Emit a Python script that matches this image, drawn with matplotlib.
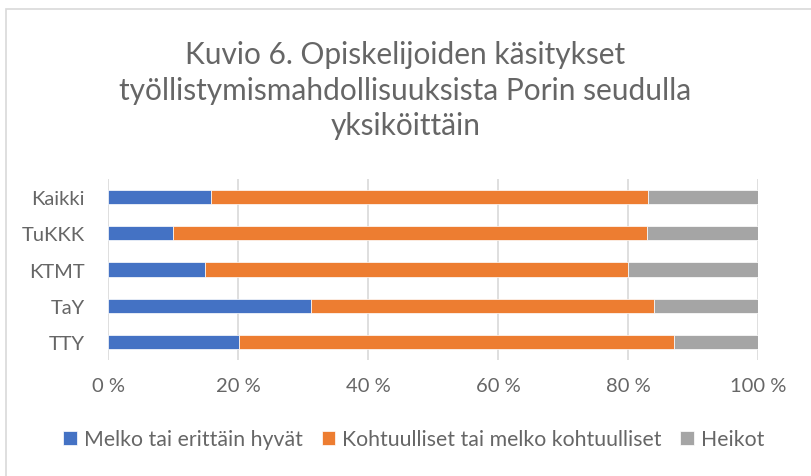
import matplotlib.pyplot as plt
from matplotlib.patches import Rectangle

plt.rcParams['font.family'] = ['Lato', 'DejaVu Sans']

# categories bottom -> top
units = ["TTY", "TaY", "KTMT", "TuKKK", "Kaikki"]
good = [20.1, 31.2, 14.9, 10.0, 15.8]          # Melko tai erittäin hyvät
moderate = [66.9, 52.8, 65.1, 72.9, 67.3]      # Kohtuulliset tai melko kohtuulliset
weak = [13.0, 16.0, 20.0, 17.1, 16.9]          # Heikot
series_names = ["Melko tai erittäin hyvät", "Kohtuulliset tai melko kohtuulliset", "Heikot"]
colors = ["#4472C4", "#ED7D31", "#A5A5A5"]
ticks = [0, 20, 40, 60, 80, 100]
tick_labels = ["0 %", "20 %", "40 %", "60 %", "80 %", "100 %"]

txt = "#666666"
fig = plt.figure(figsize=(8.11, 4.77), dpi=100)
ax = fig.add_axes([0.1332, 0.2432, 0.8015, 0.3794])

left = [0] * len(units)
for vals, name, c in zip([good, moderate, weak], series_names, colors):
    ax.barh(units, vals, left=left, height=0.39, color=c, label=name,
            edgecolor="white", linewidth=0.5, zorder=3)
    left = [l + v for l, v in zip(left, vals)]

ax.set_xlim(0, 100)
ax.set_ylim(-0.5, len(units) - 0.5)
ax.set_xticks(ticks)
ax.set_xticklabels(tick_labels)
ax.grid(axis="x", color="#d9d9d9", linewidth=1.2, zorder=0)
for s in ax.spines.values():
    s.set_visible(False)
ax.tick_params(length=0, labelsize=14.5, colors=txt)
ax.tick_params(axis="y", pad=17)
ax.tick_params(axis="x", pad=12)

fig.text(0.5, 0.81, "Kuvio 6. Opiskelijoiden käsitykset\ntyöllistymismahdollisuuksista Porin seudulla\nyksiköittäin",
         ha="center", va="center", fontsize=21.5, color=txt, linespacing=1.33)

leg = fig.legend(loc="center", bbox_to_anchor=(0.51, 0.077), ncol=3, frameon=False,
                 fontsize=15.3, handlelength=0.65, handleheight=0.65, handletextpad=0.3,
                 columnspacing=0.9)
for t in leg.get_texts():
    t.set_color(txt)

# chart border (partially outside the image)
fig.patches.append(Rectangle((6 / 811, -0.1), 1.2, 1 - 10 / 477 + 0.1, transform=fig.transFigure,
                             fill=False, edgecolor="#d9d9d9", linewidth=1.2))

fig.savefig("out.png", dpi=100)
